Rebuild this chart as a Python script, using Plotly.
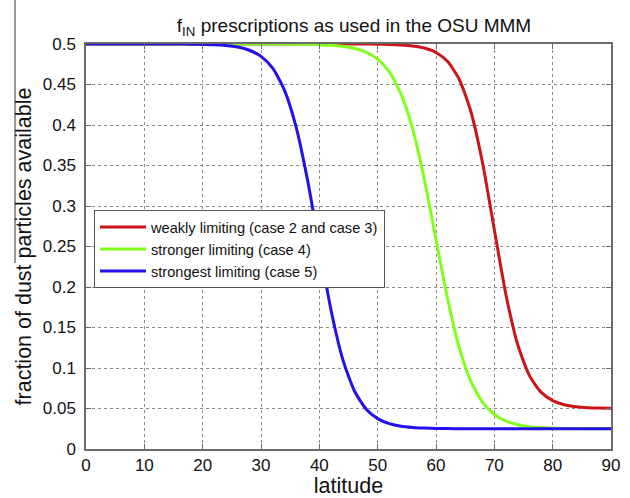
import plotly.graph_objects as go

latitude = list(range(0, 91, 2))

weak = [0.5]*24 + [0.4999, 0.4998, 0.4995, 0.4989, 0.4976, 0.4950, 0.4895, 0.4783,
                   0.4562, 0.4160, 0.3524, 0.2708, 0.1902, 0.1290, 0.0909, 0.0702,
                   0.0597, 0.0546, 0.0522, 0.0510, 0.0505, 0.0502]
stronger = [0.5]*17 + [0.4999, 0.4998, 0.4996, 0.4992, 0.4985, 0.4972, 0.4947, 0.4900,
                       0.4813, 0.4655, 0.4384, 0.3949, 0.3331, 0.2587, 0.1850, 0.1249,
                       0.0833, 0.0575, 0.0426, 0.0344, 0.0300, 0.0276, 0.0264, 0.0257,
                       0.0254, 0.0252, 0.0251, 0.0251, 0.0250]
strongest = [0.5]*9 + [0.4998, 0.4995, 0.4991, 0.4981, 0.4962, 0.4923, 0.4847, 0.4701,
                       0.4434, 0.3981, 0.3313, 0.2500, 0.1716, 0.1110, 0.0719, 0.0495,
                       0.0375, 0.0313, 0.0281, 0.0266, 0.0258, 0.0254, 0.0252, 0.0251] + [0.025]*13

names = ["weakly limiting (case 2 and case 3)",
         "stronger limiting (case 4)",
         "strongest limiting (case 5)"]
colors = ["#cc1518", "#80ff1a", "#2410ea"]

x_ticks = [0, 10, 20, 30, 40, 50, 60, 70, 80, 90]
y_ticks = [0, 0.05, 0.1, 0.15, 0.2, 0.25, 0.3, 0.35, 0.4, 0.45, 0.5]
y_ticktext = ["0", "0.05", "0.1", "0.15", "0.2", "0.25", "0.3", "0.35", "0.4", "0.45", "0.5"]

FONT = "Liberation Sans, Arial, Helvetica, sans-serif"

fig = go.Figure()
for ys, nm, col in zip([weak, stronger, strongest], names, colors):
    fig.add_trace(go.Scatter(x=latitude, y=ys, mode="lines", name=nm,
                             line=dict(color=col, width=3, shape="spline", smoothing=0.6),
                             cliponaxis=False))

axis_common = dict(showline=True, linecolor="#6a6a6a", linewidth=1.5, mirror="ticks",
                   ticks="inside", ticklen=5, tickcolor="#6a6a6a", tickwidth=1,
                   showgrid=True, gridcolor="#8a8a8a", griddash="dot", gridwidth=1,
                   zeroline=False, automargin=False,
                   tickfont=dict(size=17, color="#111", family=FONT))

fig.update_xaxes(range=[0, 90], tickvals=x_ticks, ticklabelstandoff=0,
                 title=dict(text="latitude", font=dict(size=21.5, color="#111", family=FONT), standoff=4),
                 **axis_common)
fig.update_yaxes(range=[0, 0.5], tickvals=y_ticks, ticktext=y_ticktext, ticklabelstandoff=5,
                 title=dict(text="fraction of dust particles available",
                            font=dict(size=21.5, color="#111", family=FONT), standoff=5),
                 **axis_common)

fig.update_layout(
    width=630, height=498,
    margin=dict(l=86, r=19, t=44, b=49, autoexpand=False),
    paper_bgcolor="white", plot_bgcolor="white",
    title=dict(text="f<sub>IN</sub> prescriptions as used in the OSU MMM",
               x=354 / 630, xanchor="center", y=1 - 25 / 498, yanchor="middle",
               font=dict(size=19, color="#111", family=FONT)),
    legend=dict(x=0.0152, y=(449 - 210) / 405, xanchor="left", yanchor="top",
                bgcolor="white", bordercolor="#555", borderwidth=1, itemwidth=46,
                font=dict(size=14.6, color="#111", family=FONT)),
    showlegend=True,
)

fig.add_shape(type="line", xref="paper", yref="paper",
              x0=-0.1352, x1=-0.1352, y0=0.459, y1=1.1086,
              line=dict(color="#777", width=1.5))

fig.write_html("out.html")
